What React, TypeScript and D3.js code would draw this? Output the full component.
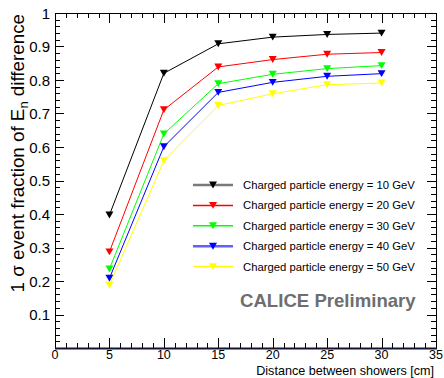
import React from "react";
import * as d3 from "d3";

const distances = [5, 10, 15, 20, 25, 30];
const energies = ["10", "20", "30", "40", "50"];
const colors = ["#000000", "#ff0000", "#00ff00", "#0000ff", "#ffff00"];
const legendLineColors = ["#7a7a7a", "#ff0000", "#00ff00", "#6060ff", "#ffff00"];
const legendLineWidths = [2.5, 1.5, 1.5, 2.5, 1.5];
const vals10 = [0.397, 0.82, 0.908, 0.928, 0.936, 0.94];
const vals20 = [0.287, 0.711, 0.839, 0.861, 0.877, 0.882];
const vals30 = [0.236, 0.639, 0.789, 0.817, 0.834, 0.843];
const vals40 = [0.208, 0.601, 0.763, 0.793, 0.811, 0.819];
const vals50 = [0.188, 0.559, 0.724, 0.759, 0.786, 0.791];
const series = [vals10, vals20, vals30, vals40, vals50];
const xTickLabels = ["0", "5", "10", "15", "20", "25", "30", "35"];
const yTickLabels = ["0.1", "0.2", "0.3", "0.4", "0.5", "0.6", "0.7", "0.8", "0.9", "1"];

const W = 444, H = 378;
const L = 55, R = 436, T = 13, B = 348;
const font = "'Liberation Sans', Arial, Helvetica, sans-serif";

function tri(cx: number, cy: number, s: number) {
  const h = s * 0.866;
  return `M${cx - s / 2},${cy - h / 2}L${cx + s / 2},${cy - h / 2}L${cx},${cy + h / 2}Z`;
}

export default function App() {
  const x = d3.scaleLinear().domain([0, 35]).range([L, R]);
  const y = d3.scaleLinear().domain([0, 1]).range([B, T]);
  const line = d3.line<number>().x((_, i) => x(distances[i])).y((d) => y(d));

  const xMinor = d3.range(0, 36, 1);
  const yMinor = d3.range(0, 51).map((i) => i * 0.02);

  return (
    <svg width={W} height={H} style={{ position: "absolute", left: 0, top: 0, background: "#fff" }}>
      <rect x={0} y={0} width={W} height={H} fill="#fff" />
      {/* ticks */}
      <g stroke="#000" strokeWidth={1}>
        {xMinor.map((v) => {
          const major = v % 5 === 0;
          const len = major ? 10 : 5;
          const px = Math.round(x(v)) + 0.5;
          return (
            <g key={"xt" + v}>
              <line x1={px} x2={px} y1={B} y2={B - len} />
              <line x1={px} x2={px} y1={T} y2={T + len} />
            </g>
          );
        })}
        {yMinor.map((v, i) => {
          const major = i % 5 === 0;
          const len = major ? 9 : 5;
          const py = Math.round(y(v)) + 0.5;
          return (
            <g key={"yt" + i}>
              <line x1={L} x2={L + len} y1={py} y2={py} />
              <line x1={R} x2={R - len} y1={py} y2={py} />
            </g>
          );
        })}
      </g>
      {/* frame */}
      <rect x={L + 0.5} y={T + 0.5} width={R - L} height={B - T} fill="none" stroke="#000" strokeWidth={1} />
      <line x1={L} x2={R + 1} y1={B + 0.5} y2={B + 0.5} stroke="#141432" strokeWidth={2} />
      {/* series */}
      {series.map((s, k) => (
        <g key={"s" + k}>
          <path d={line(s) || ""} fill="none" stroke={colors[k]} strokeWidth={1} />
          {s.map((v, i) => (
            <path key={i} d={tri(x(distances[i]), y(v), 8)} fill={colors[k]} />
          ))}
        </g>
      ))}
      {/* axis labels */}
      <g fontFamily={font} fontSize={15} fill="#000">
        {yTickLabels.map((t) => (
          <text key={t} x={50} y={y(+t)} textAnchor="end" dominantBaseline="central">
            {t}
          </text>
        ))}
      </g>
      <g fontFamily={font} fontSize={12.5} fill="#000">
        {xTickLabels.map((t) => (
          <text key={t} x={x(+t)} y={359} textAnchor="middle">
            {t}
          </text>
        ))}
      </g>
      <text x={434} y={375} textAnchor="end" fontFamily={font} fontSize={12.6} fill="#000">
        Distance between showers [cm]
      </text>
      <text
        transform="translate(24,14) rotate(-90)"
        textAnchor="end"
        fontFamily={font}
        fontSize={18.8}
        fill="#000"
      >
        1 σ event fraction of E<tspan fontSize={13} dy={4}>n</tspan>
        <tspan dy={-4}> difference</tspan>
      </text>
      {/* legend */}
      <g fontFamily={font} fontSize={11.3} fill="#000">
        {energies.map((e, k) => {
          const ly = 185 + k * 20.4;
          return (
            <g key={"lg" + k}>
              <line x1={193} x2={233} y1={ly} y2={ly} stroke={legendLineColors[k]} strokeWidth={legendLineWidths[k]} />
              <path d={tri(213, ly, 8)} fill={colors[k]} />
              <text x={243} y={ly} dominantBaseline="central">
                {`Charged particle energy = ${e} GeV`}
              </text>
            </g>
          );
        })}
      </g>
      <text x={240} y={307} fontFamily={font} fontSize={18.6} fontWeight="bold" fill="#6e6e6e">
        CALICE Preliminary
      </text>
    </svg>
  );
}
